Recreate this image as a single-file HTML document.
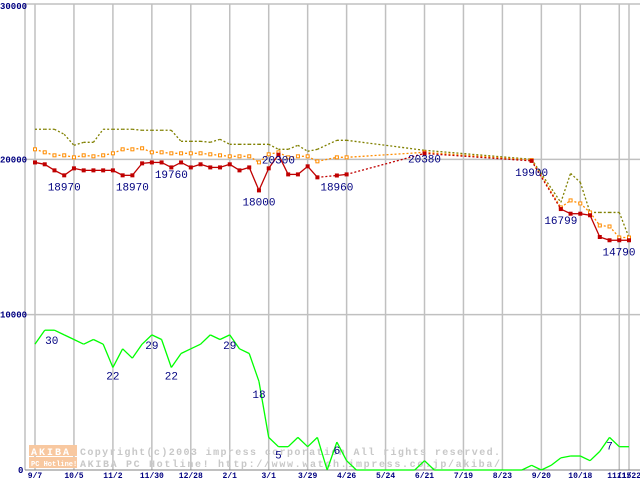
<!DOCTYPE html>
<html><head><meta charset="utf-8"><style>
html,body{margin:0;padding:0;background:#fff;}
svg{display:block;}
text{font-family:"Liberation Mono","DejaVu Sans Mono",monospace;}
</style></head><body>
<svg id="chart" width="640" height="480" viewBox="0 0 640 480" xmlns="http://www.w3.org/2000/svg"></svg>
<script>
const xLabels=["9/7","10/5","11/2","11/30","12/28","2/1","3/1","3/29","4/26","5/24","6/21","7/19","8/23","9/20","10/18","11/15","11/22"];
const xLabelWeeks=[0,4,8,12,16,20,24,28,32,36,40,44,48,52,56,60,61];
const yTicks=[0,10000,20000,30000];
const minPrice=[19800,19680,19290,18970,19420,19290,19290,19290,19290,18970,18970,19740,19800,19800,19480,19800,19480,19680,19480,19480,19680,19290,19480,18000,19420,20300,19030,19030,19550,18840,null,18960,19030,null,null,null,null,null,null,null,20380,null,null,null,null,null,null,null,null,null,null,19900,null,null,16799,16500,16500,16400,15000,14790,14790,14790];
const avgPrice=[20645,20452,20258,20258,20129,20258,20194,20258,20387,20645,20645,20710,20452,20452,20387,20387,20387,20387,20323,20258,20194,20194,20194,19806,20323,20452,20129,20194,20194,19871,null,20129,20129,null,null,null,null,null,null,null,20452,null,null,null,null,null,null,null,null,null,null,19950,null,null,16903,17355,17161,16581,15742,15677,14968,14968];
const maxPrice=[21935,21935,21935,21613,20903,21097,21097,21935,21935,21935,21935,21871,21871,21871,21871,21161,21161,21161,21097,21290,20968,20968,20968,20968,20968,20645,20645,20903,20516,20645,null,21226,21226,null,null,null,null,null,null,null,20581,null,null,null,null,null,null,null,null,null,null,20000,null,null,17226,19097,18516,16581,16581,16581,16581,14968];
const shopCount=[27,30,30,29,28,27,28,27,22,26,24,27,29,28,22,25,26,27,29,28,29,26,25,19,7,5,5,7,5,7,0,6,2,0,0,0,0,0,0,0,2,0,0,0,0,0,0,0,0,0,0,1,0,1,2.6,3,3,2,4,7,5,5];
const priceLabels=["18970","18970","19760","18000","20300","18960","20380","19900","16799","14790"];
const priceLabelWeeks=[3,10,14,23,25,31,40,51,54,61];
const priceLabelValues=[18970,18970,19760,18000,20300,18960,20380,19900,16799,14790];
const countLabels=["30","22","29","22","29","18","5","6","7"];
const countLabelWeeks=[1,8,12,14,20,23,25,31,59];
const countLabelValues=[30,22,29,22,29,18,5,6,7];

const NS="http://www.w3.org/2000/svg";
const svg=document.getElementById('chart');
const X=w=>35+w*(594/61);
const Y=v=>470-v*(466/30000);
const YC=c=>Y(c*300);
function el(tag,attrs,parent){const e=document.createElementNS(NS,tag);for(const k in attrs)e.setAttribute(k,attrs[k]);(parent||svg).appendChild(e);return e;}

const grid=el('g',{});


el('line',{x1:25,y1:4,x2:640,y2:4,stroke:'#c0c0c0','stroke-width':1.5},grid);
el('line',{x1:25,y1:4,x2:25,y2:470,stroke:'#c0c0c0','stroke-width':1.5},grid);
yTicks.forEach(v=>{if(v>0&&v<30000)el('line',{x1:25,y1:Y(v),x2:640,y2:Y(v),stroke:'#c0c0c0','stroke-width':1.5},grid);});
xLabelWeeks.forEach(w=>el('line',{x1:X(w),y1:4,x2:X(w),y2:470,stroke:'#c0c0c0','stroke-width':1.5},grid));

const wm=el('g',{});


el('rect',{x:29,y:445,width:48,height:11,fill:'#f8c8a0'},wm);
el('rect',{x:29,y:457,width:48,height:11,fill:'#f8c8a0'},wm);
let t=el('text',{x:31,y:455,'font-size':10,fill:'#fff','font-weight':'bold','letter-spacing':2},wm);t.textContent='AKIBA';
t=el('text',{x:31,y:466,'font-size':7,fill:'#fff','font-weight':'bold'},wm);t.textContent='PC Hotline!';
t=el('text',{x:80,y:455,'font-size':10,fill:'#c8c8c8','font-weight':'bold',textLength:420,lengthAdjust:'spacing'},wm);t.textContent='Copyright(c)2003 impress corporation All rights reserved.';
t=el('text',{x:80,y:467,'font-size':10,fill:'#c8c8c8','font-weight':'bold',textLength:420,lengthAdjust:'spacing'},wm);t.textContent='AKIBA PC Hotline!  http://www.watch.impress.co.jp/akiba/';

yTicks.forEach(v=>{const tx=el('text',{x:v===0?18:0,y:Y(v)+(v===30000?5:3),'font-size':9,'font-weight':'bold',fill:'#000080'});


tx.textContent=String(v);});
el('line',{x1:25,y1:470,x2:640,y2:470,stroke:'#808080','stroke-width':1});
xLabels.forEach((s,i)=>{const tx=el('text',{x:X(xLabelWeeks[i]),y:478,'font-size':8,'font-weight':'bold',fill:'#000080','text-anchor':'middle'});


tx.textContent=s;});

function drawSeries(vals,yf,color,name,marker,solidDash){
  const g=el('g',{});
  
  
  let prev=-1;
  vals.forEach((v,i)=>{if(v===null)return;
    if(prev>=0){const gap=i-prev>1;
      el('line',{x1:X(prev),y1:yf(vals[prev]),x2:X(i),y2:yf(v),stroke:color,'stroke-width':1.3,'stroke-dasharray':(gap||solidDash)?'2,2':'none'},g);}
    prev=i;});
  vals.forEach((v,i)=>{if(v===null||!marker)return;
    let m;
    if(marker==='filled')m=el('rect',{x:X(i)-2,y:yf(v)-2,width:4,height:4,fill:color},g);
    else m=el('rect',{x:X(i)-1.5,y:yf(v)-1.5,width:3,height:3,fill:'#fff',stroke:color,'stroke-width':1},g);
    
    });
}
drawSeries(maxPrice,Y,'#808000','max-price-line',null,true);
drawSeries(avgPrice,Y,'#ff8c00','avg-price-line','open',true);
drawSeries(minPrice,Y,'#c00000','min-price-line','filled',false);
drawSeries(shopCount,YC,'#00ff00','shop-count-line',null,false);

priceLabels.forEach((s,i)=>{const tx=el('text',{x:X(priceLabelWeeks[i])-(i===9?10:0),y:Y(priceLabelValues[i])+(i===4||i===6?9:15),'font-size':11,fill:'#000080','text-anchor':'middle','font-family':'Liberation Sans, sans-serif'});


tx.textContent=s;});
countLabels.forEach((s,i)=>{const tx=el('text',{x:X(countLabelWeeks[i])+(i===0?7:0),y:YC(countLabelValues[i])+(i===0||i===2||i===4?14:12),'font-size':11,fill:'#000080','text-anchor':'middle','font-family':'Liberation Sans, sans-serif'});


tx.textContent=s;});
</script>
</body></html>
